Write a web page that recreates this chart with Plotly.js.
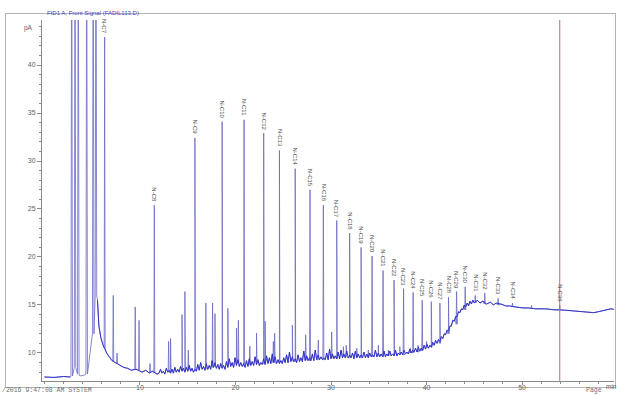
<!DOCTYPE html>
<html>
<head>
<meta charset="utf-8">
<script src="https://cdn.plot.ly/plotly-3.0.1.min.js"></script>
<style>
html,body{margin:0;padding:0;background:#fff;}
#wrap{position:relative;width:617px;height:396px;}
#chart{position:absolute;left:0;top:0;width:617px;height:396px;}
#frame{position:absolute;left:5px;top:13px;width:611px;height:375px;border:1px solid #b4b4b4;box-sizing:border-box;pointer-events:none;}
</style>
</head>
<body>
<div id="wrap"><div id="frame"></div><div id="chart"></div></div>
<script>
// ---- data (time in min, signal in pA) ----
// early baseline and solvent tail
const baseTime = [0.0,1.0,2.0,2.7,3.7,4.2,5.55,5.7,5.9,6.1,6.5,6.8,7.0,7.4,7.9,8.3,8.7,9.1,9.6,10.2,10.6,11.0,11.3,11.8];
const baseValue = [7.50,7.45,7.55,7.50,7.6,7.7,15.5,12.8,11.6,10.9,10.0,9.5,9.3,9.0,8.7,8.5,8.4,8.2,8.3,8.0,8.2,7.9,8.1,7.8];

// noisy baseline band 12 - 45 min
const noiseTime = [
 12.00,12.15,12.30,12.45,12.60,12.75,12.90,13.05,13.20,13.35,
 13.50,13.65,13.80,13.95,14.10,14.25,14.40,14.55,14.70,14.85,
 15.00,15.15,15.30,15.45,15.60,15.75,15.90,16.05,16.20,16.35,
 16.50,16.65,16.80,16.95,17.10,17.25,17.40,17.55,17.70,17.85,
 18.00,18.15,18.30,18.45,18.60,18.75,18.90,19.05,19.20,19.35,
 19.50,19.65,19.80,19.95,20.10,20.25,20.40,20.55,20.70,20.85,
 21.00,21.15,21.30,21.45,21.60,21.75,21.90,22.05,22.20,22.35,
 22.50,22.65,22.80,22.95,23.10,23.25,23.40,23.55,23.70,23.85,
 24.00,24.15,24.30,24.45,24.60,24.75,24.90,25.05,25.20,25.35,
 25.50,25.65,25.80,25.95,26.10,26.25,26.40,26.55,26.70,26.85,
 27.00,27.15,27.30,27.45,27.60,27.75,27.90,28.05,28.20,28.35,
 28.50,28.65,28.80,28.95,29.10,29.25,29.40,29.55,29.70,29.85,
 30.00,30.15,30.30,30.45,30.60,30.75,30.90,31.05,31.20,31.35,
 31.50,31.65,31.80,31.95,32.10,32.25,32.40,32.55,32.70,32.85,
 33.00,33.15,33.30,33.45,33.60,33.75,33.90,34.05,34.20,34.35,
 34.50,34.65,34.80,34.95,35.10,35.25,35.40,35.55,35.70,35.85,
 36.00,36.15,36.30,36.45,36.60,36.75,36.90,37.05,37.20,37.35,
 37.50,37.65,37.80,37.95,38.10,38.25,38.40,38.55,38.70,38.85,
 39.00,39.15,39.30,39.45,39.60,39.75,39.90,40.05,40.20,40.35,
 40.50,40.65,40.80,40.95,41.10,41.25,41.40,41.55,41.70,41.85,
 42.00,42.15,42.30,42.45,42.60,42.75,42.90,43.05,43.20,43.35,
 43.50,43.65,43.80,43.95,44.10,44.25,44.40,44.55,44.70,44.85];
const noiseValue = [
 7.9,8.3,7.9,8.1,7.8,8.4,8.0,8.2,7.9,8.3,
 7.9,8.5,8.0,8.3,8.0,8.6,8.1,8.4,8.0,8.5,
 8.1,8.7,8.1,8.4,8.0,8.3,8.1,8.8,8.2,9.0,
 8.3,8.6,8.2,8.9,8.3,8.7,8.3,9.2,8.5,9.0,
 8.4,8.8,8.3,8.9,8.4,8.7,8.3,9.1,8.5,9.4,
 8.6,9.0,8.5,9.5,8.7,9.3,8.6,9.0,8.6,8.9,
 8.5,9.2,8.6,9.4,8.7,9.1,8.7,9.6,8.8,9.3,
 8.7,9.0,8.8,9.4,8.8,9.7,8.9,9.5,8.9,9.9,
 9.0,9.6,8.9,9.3,8.9,9.2,8.9,9.5,9.0,9.8,
 9.0,10.1,9.1,9.6,9.1,9.4,9.0,9.8,9.1,9.5,
 9.1,10.2,9.2,9.7,9.2,9.5,9.2,9.9,9.2,10.3,
 9.3,9.8,9.3,9.6,9.3,9.5,9.3,10.0,9.3,10.4,
 9.4,9.9,9.4,9.7,9.4,10.1,9.4,10.3,9.5,9.9,
 9.5,10.2,9.5,9.8,9.5,10.0,9.4,10.2,9.5,9.9,
 9.5,9.8,9.5,10.1,9.5,9.9,9.5,10.0,9.6,9.8,
 9.6,10.3,9.6,10.0,9.6,9.9,9.6,10.2,9.6,9.9,
 9.7,10.2,9.7,9.9,9.7,10.3,9.7,10.0,9.8,10.1,
 9.8,10.3,9.9,10.1,9.9,10.4,10.0,10.3,10.1,10.5,
 10.1,10.6,10.2,10.5,10.3,10.8,10.4,10.9,10.5,10.8,
 10.6,11.1,10.8,11.3,11.0,11.4,11.2,11.7,11.5,12.0,
 11.9,12.4,12.3,12.8,12.8,13.4,13.3,13.8,13.8,14.3,
 14.2,14.6,14.5,15.0,14.8,15.2,14.9,15.4,15.1,15.5];

// late plateau
const tailTime = [45.0,45.3,45.6,45.9,46.3,46.7,47.0,47.3,47.8,48.3,48.7,49.3,50.0,50.6,51.4,52.5,53.3,54.6,55.5,56.2,57.0,57.5,58.0,58.5,59.0,59.3,59.6,59.8];
const tailValue = [15.2,15.5,15.2,15.4,15.1,15.3,15.0,15.2,15.1,14.9,14.9,14.8,14.7,14.7,14.6,14.6,14.5,14.45,14.35,14.3,14.2,14.2,14.3,14.4,14.5,14.6,14.55,14.6];

const solventTime = [2.85,3.2,3.54,4.42,5.1,5.39];
const solventTop  = [60,60,60,60,60,60];
const solventFoot = [7.6,8.5,7.8,7.8,12,16];

const alkaneName = ["N-C7","N-C8","N-C9","N-C10","N-C11","N-C12","N-C13","N-C14","N-C15","N-C16","N-C17","N-C18","N-C19","N-C20","N-C21","N-C22","N-C23","N-C24","N-C25","N-C26","N-C27","N-C28","N-C29","N-C30","N-C31","N-C32","N-C33","N-C34","N-C36"];
const alkaneTime = [6.3,11.5,15.75,18.6,20.9,22.95,24.6,26.25,27.8,29.2,30.6,31.95,33.15,34.3,35.45,36.6,37.6,38.6,39.55,40.5,41.4,42.3,43.15,44.05,45.1,46.1,47.5,49.0,53.95];
const alkaneTop  = [42.9,25.4,32.4,34.1,34.3,32.9,31.1,29.2,27.0,25.4,23.8,22.5,21.0,20.1,18.6,17.6,16.7,16.3,15.5,15.35,15.2,15.8,16.4,16.9,16.0,16.25,15.7,15.2,15.0];
const alkaneFoot = [10.5,7.9,8.3,8.6,8.7,8.9,9.0,9.1,9.2,9.3,9.4,9.5,9.5,9.6,9.6,9.7,9.8,10.0,10.2,10.6,11.0,12.0,13.0,14.5,15.2,15.1,15.0,14.8,14.5];

const minorTime = [7.2,7.6,9.5,9.9,11.05,13.0,13.2,14.4,14.7,15.06,16.9,17.6,17.85,19.2,20.1,20.3,21.5,22.2,23.1,23.96,24.1,25.95,27.35,28.67,30.07,31.3,31.6,32.7,33.9,34.95,36.0,37.2,38.3,39.1,40.0,51.0];
const minorTop  = [16.0,10.0,14.8,13.4,8.9,11.2,11.5,14.0,16.4,10.3,15.2,15.2,14.1,14.65,12.6,13.4,10.7,12.05,13.3,11.2,12.05,12.9,11.9,11.35,12.2,10.65,10.8,10.5,10.3,10.8,10.3,10.65,10.5,10.8,11.2,14.95];
const minorFoot = [9.1,8.9,8.3,8.2,8.0,8.0,8.0,8.2,8.2,8.2,8.4,8.5,8.6,8.7,8.9,8.9,8.8,8.9,9.0,9.0,9.0,9.2,9.3,9.3,9.5,9.6,9.6,9.6,9.6,9.7,9.7,9.8,10.0,10.1,10.6,14.65];

const markerTime = [53.95];   // red reference line
const titleText = "FID1 A, Front Signal (FADIL113.D)";
const yUnit = "pA";
const xUnit = "min";
const footLeft = "/2016 9:47:08 AM SYSTEM";
const footRight = "Page";

// ---- build the signal line from the read points ----
const basePts = [];
[[baseTime, baseValue], [noiseTime, noiseValue], [tailTime, tailValue]].forEach(([ts, vs]) => {
  ts.forEach((t, i) => basePts.push([t, vs[i]]));
});
const pts = basePts.slice();
function addPeaks(times, tops, feet, w) {
  times.forEach((t, i) => {
    pts.push([t - w, feet[i]], [t, tops[i]], [t + w, feet[i]]);
  });
}
addPeaks(solventTime, solventTop, solventFoot, 0.08);
addPeaks(alkaneTime, alkaneTop, alkaneFoot, 0.05);
addPeaks(minorTime, minorTop, minorFoot, 0.05);
pts.sort((a, b) => a[0] - b[0]);

// baseline band: break it across the solvent peaks so no false ramp is drawn
const lastSolvent = Math.max(...solventTime);
const firstSolvent = Math.min(...solventTime);
const bandPts = basePts.filter(p => p[0] < firstSolvent || p[0] > lastSolvent)
  .sort((a, b) => a[0] - b[0]);
const gapAt = bandPts.findIndex(p => p[0] > lastSolvent);
if (gapAt > 0) bandPts.splice(gapAt, 0, [lastSolvent, null]);

// full signal (peaks appear as thin lavender spikes)
const signal = {
  x: pts.map(p => p[0]),
  y: pts.map(p => p[1]),
  type: 'scatter', mode: 'lines',
  line: {color: '#6a6ac4', width: 0.8},
  hoverinfo: 'skip'
};
// dense baseline band drawn darker on top
const band = {
  x: bandPts.map(p => p[0]),
  y: bandPts.map(p => p[1]),
  type: 'scatter', mode: 'lines', connectgaps: false,
  line: {color: '#2a2ac8', width: 0.9},
  hoverinfo: 'skip'
};

const annotations = alkaneName.map((n, i) => ({
  x: alkaneTime[i], y: alkaneTop[i], xref: 'x', yref: 'y',
  text: n, textangle: 90, showarrow: false,
  xanchor: 'center', yanchor: 'bottom', yshift: 1,
  font: {family: 'Liberation Sans, Arial, sans-serif', size: 6, color: '#505050'}
}));
annotations.push(
  {xref: 'paper', yref: 'paper', x: 0.005, y: 1.0194, xanchor: 'left', yanchor: 'middle',
   text: titleText, showarrow: false,
   font: {family: 'Liberation Sans, Arial, sans-serif', size: 6, color: '#3c3cc8'}},
  {xref: 'paper', yref: 'paper', x: -0.012, y: 0.978, xanchor: 'right', yanchor: 'middle',
   text: yUnit, showarrow: false,
   font: {family: 'Liberation Sans, Arial, sans-serif', size: 6.5, color: '#606060'}},
  {xref: 'paper', yref: 'paper', x: 0.995, y: -0.0139, xanchor: 'center', yanchor: 'middle',
   text: xUnit, showarrow: false,
   font: {family: 'Liberation Sans, Arial, sans-serif', size: 6.5, color: '#606060'}},
  {xref: 'paper', yref: 'paper', x: -0.0735, y: -0.0416, xanchor: 'left', yanchor: 'bottom',
   text: footLeft, showarrow: false,
   font: {family: 'Liberation Mono, Courier New, monospace', size: 6.5, color: '#707070'}},
  {xref: 'paper', yref: 'paper', x: 0.983, y: -0.0416, xanchor: 'right', yanchor: 'bottom',
   text: footRight, showarrow: false,
   font: {family: 'Liberation Mono, Courier New, monospace', size: 6.5, color: '#707070'}}
);

const shapes = markerTime.map(t => ({
  type: 'line', xref: 'x', yref: 'paper', x0: t, x1: t, y0: 0, y1: 1,
  line: {color: '#c46a6a', width: 1}
}));

const layout = {
  width: 617, height: 396,
  margin: {l: 42, r: 3, t: 20, b: 15, pad: 0},
  paper_bgcolor: 'rgba(0,0,0,0)', plot_bgcolor: 'rgba(0,0,0,0)',
  showlegend: false,
  font: {family: 'Liberation Sans, Arial, sans-serif', size: 7, color: '#606060'},
  xaxis: {
    range: [-0.26, 59.63], showgrid: false, zeroline: false,
    showline: true, linecolor: '#8a8a8a', linewidth: 1,
    ticks: 'outside', ticklen: 3, tickcolor: '#8a8a8a', tickwidth: 1,
    tickvals: [10,20,30,40,50], ticklabelstandoff: -3,
    tickfont: {size: 7, color: '#606060'},
    minor: {dtick: 2, tick0: 0, ticks: 'outside', ticklen: 2, tickcolor: '#8a8a8a', showgrid: false}
  },
  yaxis: {
    range: [7.08, 44.69], showgrid: false, zeroline: false,
    showline: true, linecolor: '#8a8a8a', linewidth: 1,
    ticks: 'outside', ticklen: 4, tickcolor: '#8a8a8a', tickwidth: 1,
    tickvals: [10,15,20,25,30,35,40],
    tickfont: {size: 7, color: '#606060'},
    minor: {dtick: 1, tick0: 0, ticks: 'outside', ticklen: 2, tickcolor: '#8a8a8a', showgrid: false}
  },
  annotations: annotations,
  shapes: shapes
};

Plotly.newPlot('chart', [signal, band], layout, {displayModeBar: false, staticPlot: true});
</script>
</body>
</html>
